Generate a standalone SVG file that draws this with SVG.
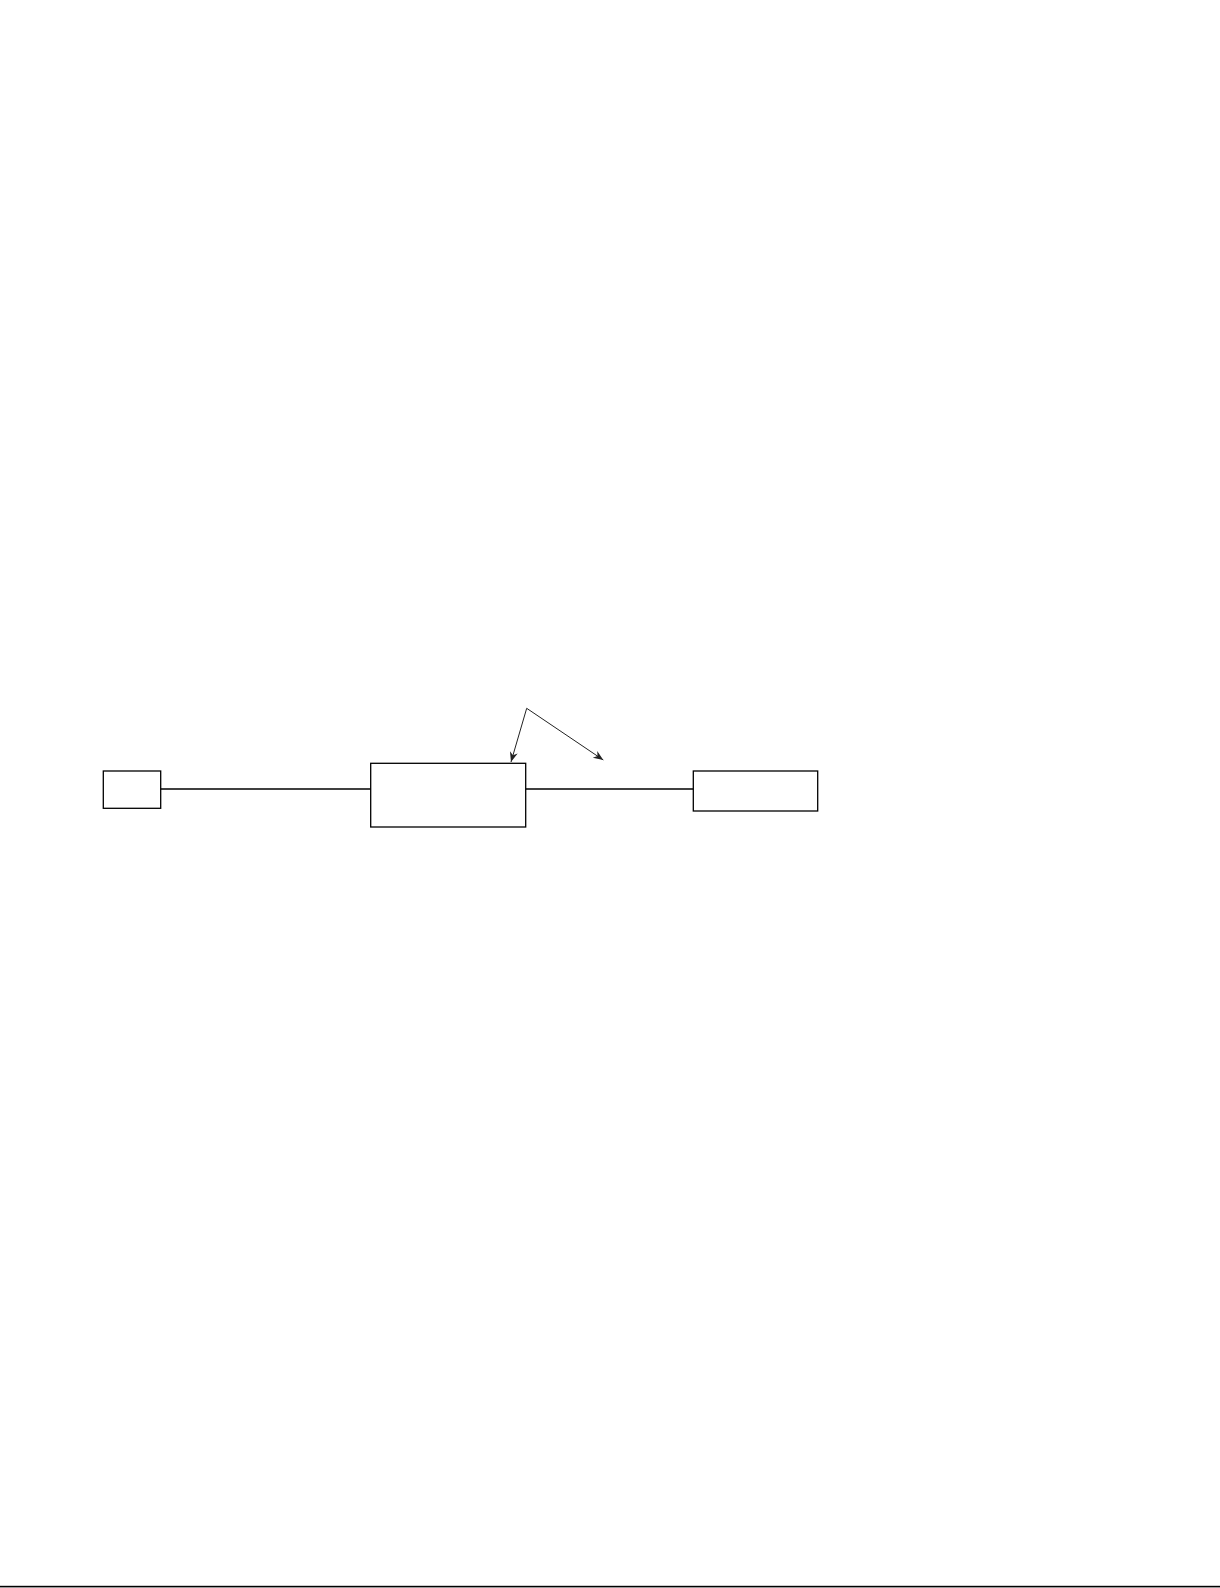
<svg xmlns="http://www.w3.org/2000/svg" width="1220" height="1588" viewBox="0 0 1220 1588">
<style>
.node{fill:none;stroke:#000;stroke-width:1.3}
.edge{fill:none;stroke:#000;stroke-width:1.3}
.ptr{fill:none;stroke:#222;stroke-width:1}
</style>
<defs>
<marker id="ah" viewBox="0 0 10 10" refX="10" refY="5" markerWidth="10" markerHeight="10" markerUnits="userSpaceOnUse" orient="auto">
<path d="M0,1 L10,5 L0,9 L3,5 Z" fill="#222"/>
</marker>
</defs>
<rect width="1220" height="1588" fill="#fff"/>
<g id="connectors">
<line class="edge" x1="160.7" y1="789" x2="370.7" y2="789"/>
<line class="edge" x1="525.7" y1="789" x2="693.3" y2="789"/>
<line class="ptr" x1="526.7" y1="708.3" x2="511" y2="762" marker-end="url(#ah)"/>
<line class="ptr" x1="526.7" y1="708.3" x2="603.3" y2="760" marker-end="url(#ah)"/>
</g>
<g id="node1"><rect class="node" x="103.3" y="771" width="57.4" height="37.3"/></g>
<g id="node2"><rect class="node" x="370.7" y="763.3" width="155" height="63.7"/></g>
<g id="node3"><rect class="node" x="693.3" y="771" width="124.4" height="40"/></g>
<g id="baseline"><rect x="0" y="1585.8" width="1220" height="1.6" fill="#000"/></g>
</svg>
